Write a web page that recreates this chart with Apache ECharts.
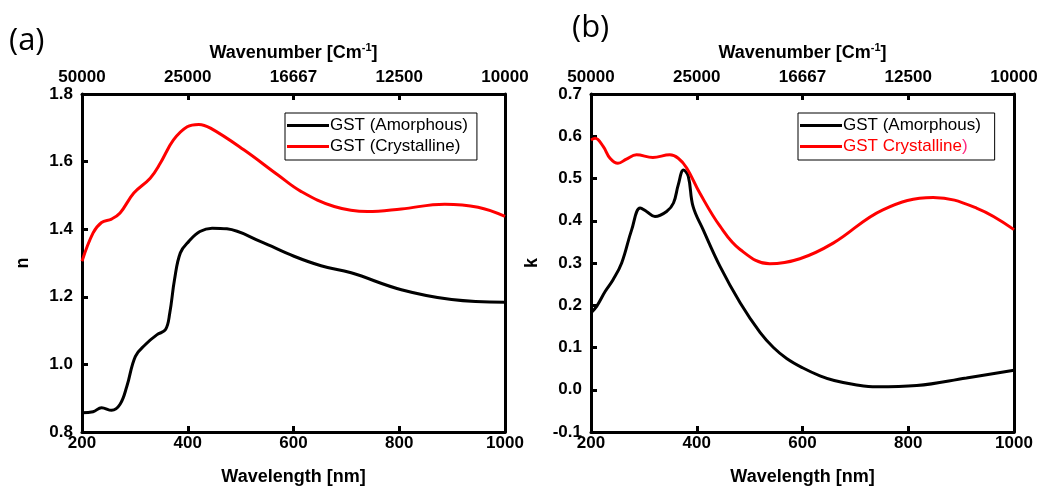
<!DOCTYPE html>
<html>
<head>
<meta charset="utf-8">
<script src="https://cdn.jsdelivr.net/npm/echarts@6/dist/echarts.min.js"></script>
<style>
  html, body { margin: 0; padding: 0; background: #fff; }
  #chart { width: 1041px; height: 489px; }
</style>
</head>
<body>
<div id="chart"></div>
<script>
// wavelength ticks and matching wavenumber labels on the top axis
var tickWl = [200, 400, 600, 800, 1000];
var wnLabels = ['50000', '25000', '16667', '12500', '10000'];

// (a) refractive index n
var nAmWl = [200, 221, 237, 256, 272, 285, 301, 320, 342, 358, 366, 375, 386, 402, 423, 446, 474, 537, 601, 652, 709, 804, 899, 1000];
var nAm   = [0.857, 0.860, 0.872, 0.864, 0.882, 0.936, 1.024, 1.059, 1.088, 1.103, 1.152, 1.251, 1.330, 1.364, 1.393, 1.403, 1.401, 1.364, 1.320, 1.292, 1.271, 1.221, 1.192, 1.184];
var nCrWl = [200, 221, 237, 256, 272, 298, 329, 348, 373, 399, 421, 443, 506, 570, 614, 677, 740, 804, 886, 949, 1000];
var nCr   = [1.305, 1.389, 1.420, 1.430, 1.448, 1.507, 1.551, 1.595, 1.664, 1.703, 1.710, 1.699, 1.635, 1.561, 1.512, 1.467, 1.452, 1.460, 1.474, 1.465, 1.438];

// (b) extinction coefficient k
var kAmWl = [200, 211, 227, 242, 258, 277, 293, 305, 321, 343, 356, 365, 375, 384, 393, 412, 444, 482, 520, 545, 570, 600, 633, 660, 700, 740, 816, 910, 1000];
var kAm   = [0.182, 0.198, 0.233, 0.261, 0.300, 0.379, 0.430, 0.422, 0.410, 0.422, 0.442, 0.485, 0.520, 0.505, 0.434, 0.379, 0.292, 0.206, 0.135, 0.100, 0.074, 0.052, 0.033, 0.022, 0.012, 0.007, 0.010, 0.028, 0.046];
var kCrWl = [200, 208, 223, 236, 251, 267, 286, 317, 349, 365, 381, 406, 444, 482, 538, 595, 658, 752, 847, 929, 1000];
var kCr   = [0.591, 0.595, 0.576, 0.548, 0.536, 0.546, 0.556, 0.550, 0.556, 0.548, 0.525, 0.465, 0.387, 0.332, 0.298, 0.310, 0.347, 0.426, 0.455, 0.430, 0.379];

function pairs(xs, ys) {
  var out = [];
  for (var i = 0; i < xs.length; i++) out.push([xs[i], ys[i]]);
  return out;
}

var FONT = 'Liberation Sans, Arial, sans-serif';
var lblStyle = { color: '#000', fontFamily: FONT, fontWeight: 'bold', fontSize: 17 };
var axLine = { show: true, onZero: false, lineStyle: { color: '#000', width: 3 } };
var inTick = { show: true, inside: true, length: 6, lineStyle: { color: '#000', width: 3 } };
var nameStyle = { color: '#000', fontFamily: FONT, fontWeight: 'bold', fontSize: 18 };

function bottomAxis(grid) {
  return {
    type: 'value', gridIndex: grid, position: 'bottom', min: 200, max: 1000, interval: 200,
    name: 'Wavelength [nm]', nameLocation: 'middle', nameGap: 36,
    nameTextStyle: nameStyle,
    axisLine: axLine, axisTick: inTick, splitLine: { show: false },
    axisLabel: Object.assign({ margin: 3, formatter: function (v) { return String(v); } }, lblStyle)
  };
}
function topAxis(grid) {
  return {
    type: 'value', gridIndex: grid, position: 'top', min: 200, max: 1000, interval: 200,
    name: 'Wavenumber [Cm{sup|-1}]', nameLocation: 'middle', nameGap: 29,
    nameTextStyle: Object.assign({
      lineHeight: 22,
      rich: { sup: { fontFamily: FONT, fontWeight: 'bold', fontSize: 11, verticalAlign: 'top', lineHeight: 12 } }
    }, nameStyle),
    axisLine: axLine, axisTick: inTick, splitLine: { show: false },
    axisLabel: Object.assign({ margin: 8, formatter: function (v) { return wnLabels[tickWl.indexOf(v)]; } }, lblStyle)
  };
}
function leftAxis(grid, name, min, max, step, dec) {
  return {
    type: 'value', gridIndex: grid, position: 'left', min: min, max: max, interval: step,
    name: name, nameLocation: 'middle', nameGap: 50, nameRotate: 90,
    nameTextStyle: nameStyle,
    axisLine: axLine, axisTick: inTick, splitLine: { show: false },
    axisLabel: Object.assign({ margin: 9, formatter: function (v) { return v.toFixed(dec); } }, lblStyle)
  };
}
function rightAxis(grid, min, max) {
  return {
    type: 'value', gridIndex: grid, position: 'right', min: min, max: max,
    axisLine: axLine, axisTick: { show: false }, axisLabel: { show: false }, splitLine: { show: false }
  };
}
function line(name, x, y, data, color) {
  return {
    name: name, type: 'line', xAxisIndex: x, yAxisIndex: y, data: data,
    smooth: 0.4, showSymbol: false, symbol: 'none',
    lineStyle: { color: color, width: 3 }, itemStyle: { color: color }
  };
}

var legendBase = {
  orient: 'vertical', top: 113, itemWidth: 42, itemHeight: 3, itemGap: 4, icon: 'rect',
  borderColor: '#000', borderWidth: 1, padding: [4, 9, 5, 2],
  textStyle: { color: '#000', fontFamily: FONT, fontSize: 17, padding: [0, 0, 0, -4] }
};

var chart = echarts.init(document.getElementById('chart'), null, { renderer: 'canvas' });
chart.setOption({
  backgroundColor: '#fff',
  animation: false,
  graphic: [
    { type: 'text', left: 9, top: 26, style: { text: '(a)', fontFamily: 'Open Sans, sans-serif', fontSize: 31, fill: '#000' } },
    { type: 'text', left: 572, top: 13, style: { text: '(b)', fontFamily: 'Open Sans, sans-serif', fontSize: 31, fill: '#000' } }
  ],
  grid: [
    { left: 82, right: 536, top: 94, bottom: 57, outerBoundsMode: 'none' },
    { left: 591, right: 27, top: 94, bottom: 57, outerBoundsMode: 'none' }
  ],
  xAxis: [bottomAxis(0), topAxis(0), bottomAxis(1), topAxis(1)],
  yAxis: [
    leftAxis(0, 'n', 0.8, 1.8, 0.2, 1), rightAxis(0, 0.8, 1.8),
    leftAxis(1, 'k', -0.1, 0.7, 0.1, 1), rightAxis(1, -0.1, 0.7)
  ],
  legend: [
    Object.assign({}, legendBase, { left: 285, data: ['GST (Amorphous)', 'GST (Crystalline)'] }),
    Object.assign({}, legendBase, {
      left: 798,
      data: [
        { name: 'GST (Amorphous) ' },
        { name: 'GST Crystalline)' }
      ],
      formatter: function (name) {
        if (name === 'GST Crystalline)') return '{r|GST Crystalline}{p|)}';
        return name;
      },
      textStyle: {
        color: '#000', fontFamily: FONT, fontSize: 17, padding: [0, 0, 0, -4],
        rich: {
          r: { color: '#ff0000', fontFamily: FONT, fontSize: 17 },
          p: { color: '#ff2a7f', fontFamily: FONT, fontSize: 17 }
        }
      }
    })
  ],
  series: [
    line('GST (Amorphous)', 0, 0, pairs(nAmWl, nAm), '#000000'),
    line('GST (Crystalline)', 0, 0, pairs(nCrWl, nCr), '#ff0000'),
    line('GST (Amorphous) ', 2, 2, pairs(kAmWl, kAm), '#000000'),
    line('GST Crystalline)', 2, 2, pairs(kCrWl, kCr), '#ff0000')
  ]
});
</script>
</body>
</html>
